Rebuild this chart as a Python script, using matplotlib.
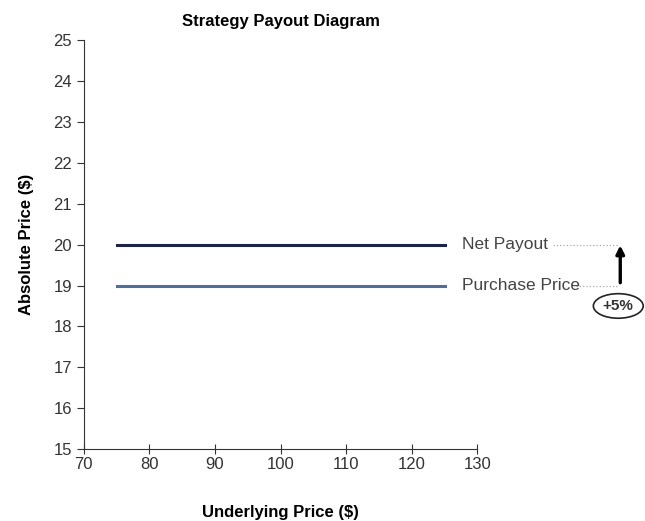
import matplotlib.pyplot as plt
from matplotlib.patches import Ellipse

plt.rcParams['font.family'] = ['Liberation Sans', 'DejaVu Sans']

underlying = [75, 125]
net_payout = [20, 20]
purchase_price = [19, 19]
pct_label = '+5%'

fig = plt.figure(figsize=(6.45, 5.21), dpi=100)
ax = fig.add_axes([0.130, 0.138, 0.610, 0.785])

ax.plot(underlying, net_payout, color='#1c2447', lw=2.2)
ax.plot(underlying, purchase_price, color='#4f6e9c', lw=2.2)

ax.set_xlim(70, 130)
ax.set_ylim(15, 25)
ax.set_xticks(range(70, 131, 10))
ax.set_yticks(range(15, 26))
ax.spines['top'].set_visible(False)
ax.spines['right'].set_visible(False)
ax.spines['left'].set_color('#333333')
ax.spines['bottom'].set_color('#333333')
ax.tick_params(axis='both', labelsize=12, colors='#333333', length=5)
ax.tick_params(axis='x', direction='inout', length=7, pad=2)

ax.set_title('Strategy Payout Diagram', fontsize=12, fontweight='bold', pad=10)
ax.set_xlabel('Underlying Price ($)', fontsize=12, fontweight='bold', labelpad=24)
ax.set_ylabel('Absolute Price ($)', fontsize=12, fontweight='bold', labelpad=14)

# annotations on the right
for y, label in [(net_payout[0], 'Net Payout'), (purchase_price[0], 'Purchase Price')]:
    ax.text(127.6, y, label, fontsize=12.5, color='#444444', va='center', ha='left')

ax.plot([141.5, 151.5], [20, 20], color='#aaaaaa', lw=0.9, ls=':', clip_on=False)
ax.plot([145.0, 151.5], [19, 19], color='#aaaaaa', lw=0.9, ls=':', clip_on=False)
ax.annotate('', xy=(151.8, 20.05), xytext=(151.8, 19.0),
            arrowprops=dict(arrowstyle='-|>', color='black', lw=2.4, mutation_scale=12),
            annotation_clip=False)
ax.add_patch(Ellipse((151.5, 18.5), 7.6, 0.6, fill=False, ec='#222222', lw=1.2, clip_on=False))
ax.text(151.5, 18.5, pct_label, fontsize=11, fontweight='bold', ha='center', va='center',
        color='#333333')

fig.savefig('out.png', dpi=100)
